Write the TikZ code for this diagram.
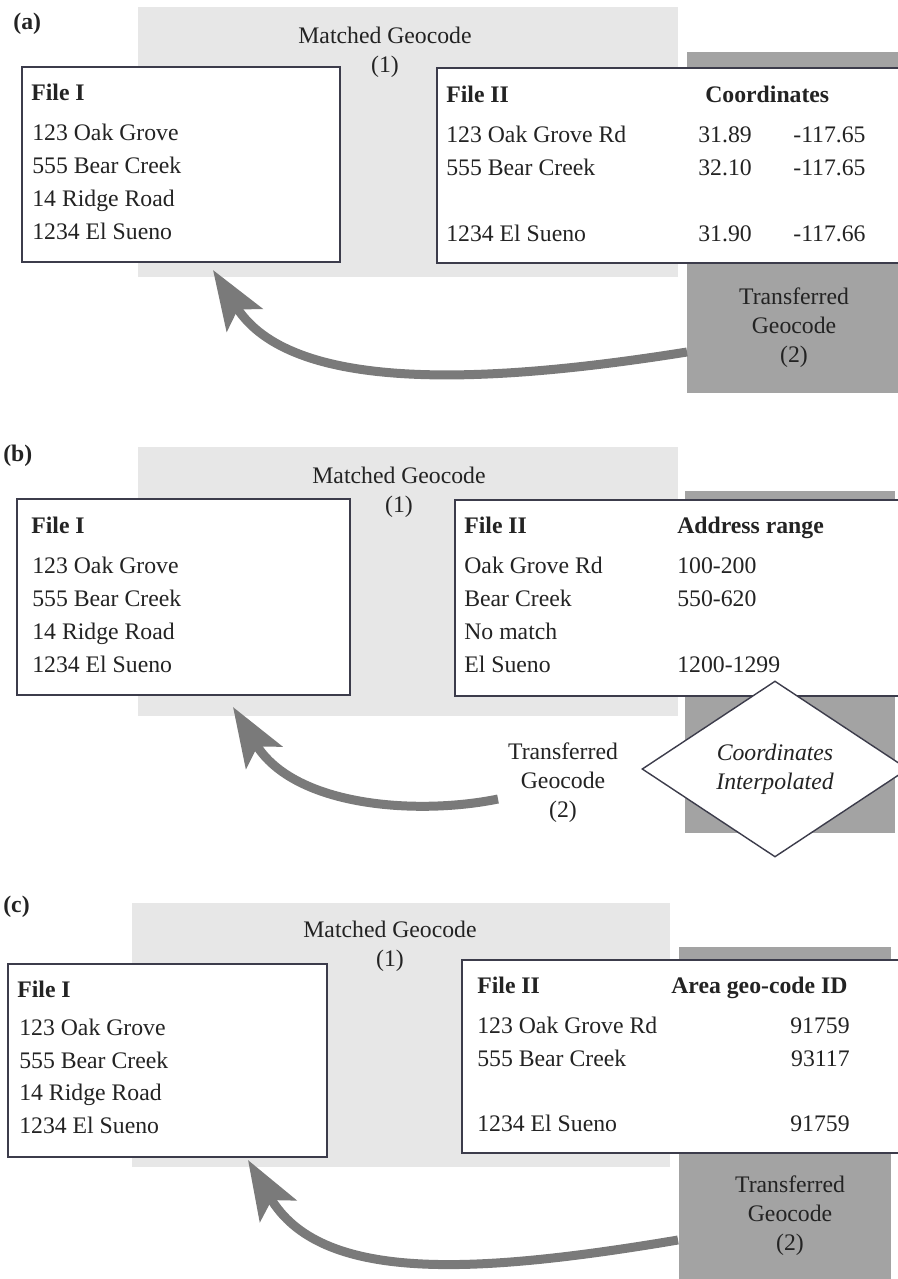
\documentclass[tikz,border=0pt]{standalone}
\usepackage{fontspec}
\setmainfont{Liberation Serif}
\usetikzlibrary{arrows.meta,shapes.geometric}
\definecolor{lightbg}{RGB}{231,231,231}
\definecolor{darkbg}{RGB}{163,163,163}
\definecolor{arrowgray}{RGB}{122,122,122}
\definecolor{boxline}{RGB}{60,60,75}
\definecolor{inkgray}{RGB}{35,35,35}

\begin{document}
\begin{tikzpicture}[x=0.02cm, y=-0.02cm,
	txt/.style={anchor=base west, inner sep=0pt, text=inkgray, font=\fontsize{13.5}{16.5}\selectfont},
	headtxt/.style={txt, font=\fontsize{13.5}{16.5}\selectfont\bfseries},
	numtxt/.style={txt, anchor=base east},
	geolabel/.style={inner sep=0pt, text=inkgray, align=center, font=\fontsize{13.5}{16.5}\selectfont},
	filebox/.style={draw=boxline, line width=0.8pt, fill=white},
	geoarrow/.style={draw=arrowgray, line width=0.18cm, -{Stealth[length=1.18cm, width=0.84cm, inset=0.25cm]}}]
	\fill [white] (0,0) rectangle (898,1279);
	\useasboundingbox (0,0) rectangle (898,1279);

	% (a)
	\fill [lightbg] (138,7) rectangle (678,277);
	\fill [darkbg] (687,52) rectangle (898,393);
	\draw [filebox] (22,67) rectangle (340,262);
	\draw [filebox] (437,68) rectangle (910,263);
	\node [headtxt] (pa) at (13,29) {(a)};
	\node [geolabel] (matchA) at (385,52) {Matched Geocode\\(1)};
	\node [headtxt] (fileIa) at (31,100) {File I};
	\foreach \t [count=\i] in {123 Oak Grove, 555 Bear Creek, 14 Ridge Road, 1234 El Sueno}
		\node [txt] (aI\i) at (32,107+33*\i) {\t};
	\node [headtxt] (fileIIa) at (446,102) {File II};
	\node [headtxt] (coordA) at (705,102) {Coordinates};
	\foreach \y/\s/\la/\lo [count=\i] in {142/123 Oak Grove Rd/31.89/-117.65, 175/555 Bear Creek/32.10/-117.65, 241/1234 El Sueno/31.90/-117.66} {
		\node [txt] (aII\i) at (446,\y) {\s};
		\node [txt] (latA\i) at (698,\y) {\la};
		\node [txt] (lonA\i) at (793,\y) {\lo};
	}
	\node [geolabel] (transA) at (794,328) {Transferred\\Geocode\\(2)};
	\coordinate (srcA) at (687,352);
	\coordinate (tipA) at (213,270);
	\draw [geoarrow] (srcA) .. controls (480,385) and (290,392) .. (tipA);

	% (b)
	\fill [lightbg] (138,447) rectangle (678,716);
	\fill [darkbg] (685,491) rectangle (895,833);
	\draw [filebox] (17,499) rectangle (350,695);
	\draw [filebox] (455,500) rectangle (910,696);
	\node [headtxt] (pb) at (3,461) {(b)};
	\node [geolabel] (matchB) at (399,492) {Matched Geocode\\(1)};
	\node [headtxt] (fileIb) at (31,533) {File I};
	\foreach \t [count=\i] in {123 Oak Grove, 555 Bear Creek, 14 Ridge Road, 1234 El Sueno}
		\node [txt] (bI\i) at (32,540+33*\i) {\t};
	\node [headtxt] (fileIIb) at (464,533) {File II};
	\node [headtxt] (rangeB) at (677,533) {Address range};
	\foreach \s/\r [count=\i] in {Oak Grove Rd/100-200, Bear Creek/550-620, No match/, El Sueno/1200-1299} {
		\node [txt] (bII\i) at (464,540+33*\i) {\s};
		\node [txt] (rngB\i) at (677,540+33*\i) {\r};
	}
	\node [diamond, draw=boxline, line width=0.8pt, fill=white, aspect=1.5, inner sep=0pt,
		minimum width=5.32cm, minimum height=3.52cm, align=center, text=inkgray,
		font=\fontsize{13.5}{16.5}\selectfont\itshape] (interpB) at (775,769) {Coordinates\\Interpolated};
	\node [geolabel] (transB) at (563,783) {Transferred\\Geocode\\(2)};
	\coordinate (srcB) at (498,799);
	\coordinate (tipB) at (233,707);
	\draw [geoarrow] (srcB) .. controls (420,815) and (295,808) .. (tipB);

	% (c)
	\fill [lightbg] (132,903) rectangle (670,1167);
	\fill [darkbg] (679,947) rectangle (891,1285);
	\draw [filebox] (8,964) rectangle (327,1157);
	\draw [filebox] (462,960) rectangle (910,1153);
	\node [headtxt] (pc) at (3,912) {(c)};
	\node [geolabel] (matchC) at (390,946) {Matched Geocode\\(1)};
	\node [headtxt] (fileIc) at (17,997) {File I};
	\foreach \t [count=\i] in {123 Oak Grove, 555 Bear Creek, 14 Ridge Road, 1234 El Sueno}
		\node [txt] (cI\i) at (19,1003+32.5*\i) {\t};
	\node [headtxt] (fileIIc) at (477,993) {File II};
	\node [headtxt] (areaC) at (671,993) {Area geo-code ID};
	\foreach \y/\s/\n [count=\i] in {1033/123 Oak Grove Rd/91759, 1066/555 Bear Creek/93117, 1131/1234 El Sueno/91759} {
		\node [txt] (cII\i) at (477,\y) {\s};
		\node [numtxt] (idC\i) at (850,\y) {\n};
	}
	\node [geolabel] (transC) at (790,1216) {Transferred\\Geocode\\(2)};
	\coordinate (srcC) at (678,1240);
	\coordinate (tipC) at (248,1160);
	\draw [geoarrow] (srcC) .. controls (470,1275) and (320,1282) .. (tipC);
\end{tikzpicture}
\end{document}
